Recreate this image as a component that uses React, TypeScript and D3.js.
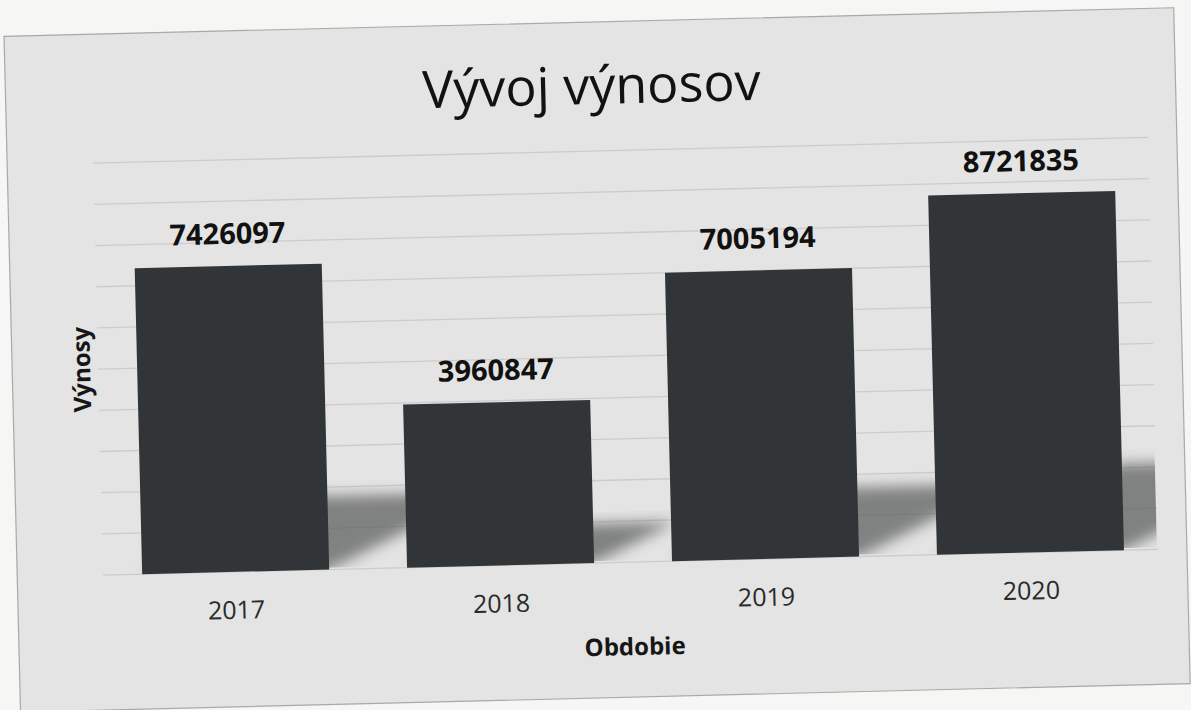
import * as d3 from 'd3'

const years = ['2017', '2018', '2019', '2020']
const revenues = [7426097, 3960847, 7005194, 8721835]
const yTicks = d3.range(0, 10000001, 1000000)

const W = 1191
const H = 710
// the scanned chart sits a little tilted on the page
const tilt = -1.4
const plot = { left: 98, right: 1158, top: 151, bottom: 563 }

// perspective shadow: height share and horizontal lean per px of bar height
const shadowRise = 0.24
const shadowLean = 0.51

const font = '"Open Sans", "Noto Sans", sans-serif'

export default function App() {
  const x = d3.scaleBand<string>()
    .domain(years)
    .range([plot.left, plot.right])
    .paddingInner(0.294)
    .paddingOuter(0.147)

  const y = d3.scaleLinear().domain([0, 10000000]).range([plot.bottom, plot.top])

  const bars = years.map((yr, i) => {
    const x0 = x(yr) ?? 0
    const x1 = x0 + x.bandwidth()
    const top = y(revenues[i])
    const base = y(0)
    return { yr, value: revenues[i], x0, x1, top, base, h: base - top }
  })

  const shadowPath = (b: typeof bars[number]) => {
    const dx = b.h * shadowLean
    const dy = b.h * shadowRise
    return d3.line()([
      [b.x0, b.base],
      [b.x1, b.base],
      [b.x1 + dx, b.base - dy],
      [b.x0 + dx, b.base - dy],
    ]) + 'Z'
  }

  const cx = (plot.left + plot.right) / 2

  return (
    <svg width={W} height={H} viewBox={`0 0 ${W} ${H}`} style={{ position: 'absolute', left: 0, top: 0, display: 'block' }}>
      <defs>
        <filter id="shadowBlur" x="-30%" y="-30%" width="160%" height="160%">
          <feGaussianBlur stdDeviation="7" />
        </filter>
        <clipPath id="plotClip">
          <rect x={plot.left} y={plot.top - 20} width={1152 - plot.left} height={plot.bottom - plot.top + 18} />
        </clipPath>
      </defs>

      <rect x={0} y={0} width={W} height={H} fill="#f6f6f5" />

      <g transform={`rotate(${tilt}, 595, 355)`}>
        <rect x={12} y={22} width={1170} height={676} fill="#e3e4e3" stroke="#a8a9a8" strokeWidth={1.2} />

        <text x={598} y={104} textAnchor="middle" fontFamily={font} fontSize={52} fontWeight={500} fill="#121212">
          Vývoj výnosov
        </text>

        {yTicks.map(t => (
          <line key={t} x1={plot.left} x2={1153} y1={y(t)} y2={y(t)} stroke="#cbcccb" strokeWidth={1.3} />
        ))}

        <g clipPath="url(#plotClip)">
          {bars.map(b => (
            <path key={`s-${b.yr}`} d={shadowPath(b)} fill="#5a5b5c" opacity={0.72} filter="url(#shadowBlur)" />
          ))}
        </g>

        {bars.map(b => (
          <rect key={b.yr} x={b.x0} y={b.top} width={b.x1 - b.x0} height={b.h} fill="#323538" />
        ))}

        {bars.map(b => (
          <text key={`l-${b.yr}`} x={(b.x0 + b.x1) / 2} y={b.top - 22} textAnchor="middle"
            fontFamily={font} fontWeight={700} fontSize={29} fill="#111">
            {b.value}
          </text>
        ))}

        {years.map(yr => (
          <text key={`t-${yr}`} x={(x(yr) ?? 0) + x.bandwidth() / 2} y={610} textAnchor="middle"
            fontFamily={font} fontSize={25} fill="#2a2a2a">
            {yr}
          </text>
        ))}

        <text x={cx} y={656} textAnchor="middle" fontFamily={font} fontWeight={700} fontSize={24} fill="#161616">
          Obdobie
        </text>

        <text transform={`translate(90, ${(plot.top + plot.bottom) / 2}) rotate(-90)`} textAnchor="middle"
          fontFamily={font} fontWeight={700} fontSize={24} fill="#161616">
          Výnosy
        </text>
      </g>
    </svg>
  )
}
